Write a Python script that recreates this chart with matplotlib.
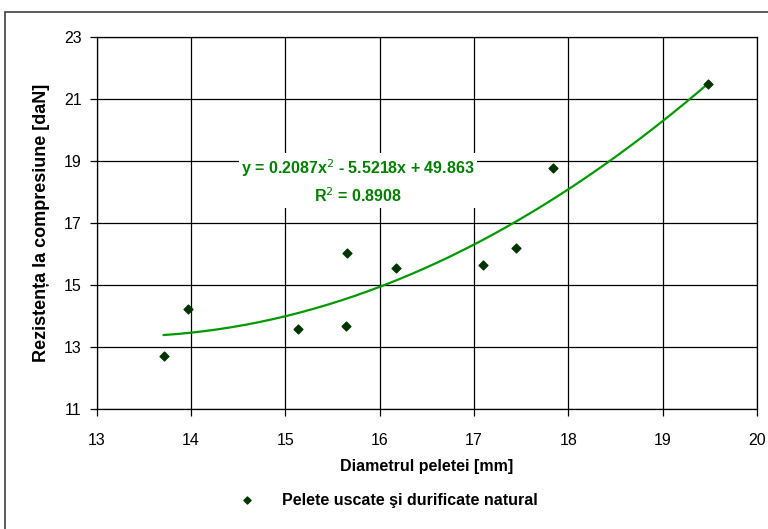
import matplotlib.pyplot as plt
import numpy as np
from matplotlib.patches import Rectangle

# diameter [mm] and compression strength [daN]
diametru = [13.71, 13.97, 15.13, 15.64, 15.65, 16.17, 17.10, 17.45, 17.84, 19.48]
rezistenta = [12.72, 14.23, 13.58, 13.68, 16.03, 15.55, 15.65, 16.19, 18.77, 21.48]

# polynomial trendline as printed on the chart
coef = [0.2087, -5.5218, 49.863]
r2 = 0.8908

x_ticks = [13, 14, 15, 16, 17, 18, 19, 20]
y_ticks = [11, 13, 15, 17, 19, 21, 23]

plt.rcParams["font.family"] = ["Liberation Sans", "DejaVu Sans"]

fig = plt.figure(figsize=(7.68, 5.29), dpi=100)
fig.patch.set_facecolor("white")

# chart frame (right and bottom run off the picture)
fig.patches.append(Rectangle((5 / 768, -0.1), 1.2, 1 - 12 / 529 + 0.1,
                             transform=fig.transFigure, fill=False,
                             edgecolor="#404040", linewidth=1.2))

ax = fig.add_axes([0.126, 0.2268, 0.8597, 0.7032])
ax.set_xlim(13, 20)
ax.set_ylim(11, 23)
ax.set_xticks(x_ticks)
ax.set_yticks(y_ticks)
ax.grid(True, color="black", linewidth=0.9)
ax.set_axisbelow(True)
for s in ax.spines.values():
    s.set_color("black")
    s.set_linewidth(0.9)
ax.tick_params(direction="out", length=5, width=0.9, labelsize=11.5, colors="black")
ax.tick_params(axis="x", pad=12)
ax.tick_params(axis="y", pad=6)

xs = np.linspace(min(diametru), max(diametru), 200)
ax.plot(xs, np.polyval(coef, xs), color="#009900", linewidth=1.6, zorder=3)
ax.scatter(diametru, rezistenta, marker="D", s=20, color="#003300", zorder=4,
           label="Pelete uscate şi durificate natural")

eq = f"y = {coef[0]}x$^2$ - {abs(coef[1])}x + {coef[2]}\nR$^2$ = {r2}"
ax.text(15.77, 18.35, eq, ha="center", va="center", fontsize=11.5,
        fontweight="bold", color="#008000", linespacing=1.45,
        bbox=dict(facecolor="white", edgecolor="none", pad=2), zorder=5)

ax.set_xlabel("Diametrul peletei [mm]", fontsize=11.5, fontweight="bold", labelpad=8)
ax.set_ylabel("Rezistența la compresiune [daN]", fontsize=13, fontweight="bold", labelpad=10)

leg = ax.legend(loc="center", bbox_to_anchor=(0.435, -0.245), frameon=False,
                prop={"weight": "bold", "size": 11.5}, handletextpad=1.2,
                markerscale=0.8)

fig.savefig("out.png", dpi=100)
